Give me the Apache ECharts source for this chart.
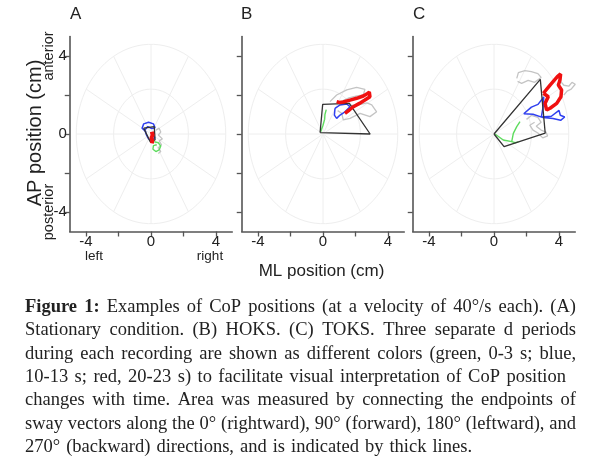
<!DOCTYPE html>
<html><head><meta charset="utf-8">
<script src="https://cdn.jsdelivr.net/npm/echarts@6/dist/echarts.min.js"></script>
<style>html,body{margin:0;padding:0;background:#fff}#c{width:599px;height:463px}</style>
</head><body><div id="c"></div><script>
// ---------- data ----------
const panelLabels = ['A', 'B', 'C'];
const tickValues = [-4, -2, 0, 2, 4];
const xTickLabels = [-4, 0, 4];
const yTickLabels = [-4, 0, 4];
const ringRadii = [2.3, 4.6];
const spokeAngles = [0, 30, 60, 90, 120, 150, 180, 210, 240, 270, 300, 330];

// Panel A (stationary)
const aGray = [[[0.3,0.2],[0.5,0.3],[0.6,0.1],[0.45,-0.05],[0.7,-0.25],[0.5,-0.35],[0.65,-0.55],[0.45,-0.7],[0.6,-0.9],[0.45,-1.0]]];
const aGreen = [[[0.2,-0.4],[0.45,-0.45],[0.6,-0.62],[0.5,-0.82],[0.3,-0.9],[0.12,-0.78],[0.15,-0.6],[0.35,-0.55]]];
const aBlue = [[[-0.3,0.1],[-0.55,0.3],[-0.45,0.52],[-0.15,0.6],[0.15,0.52],[0.25,0.32],[0.05,0.28],[-0.2,0.38],[-0.38,0.2],[-0.28,-0.05],[-0.15,-0.25],[0.1,-0.35],[0.22,-0.18],[0.1,0.0]]];
const aRed = [[[0.05,0.12],[0.1,-0.05],[0.03,-0.2],[0.08,-0.35],[0.05,-0.48]]];
const aArea = [[-0.45,0.3],[0.2,0.38],[0.25,-0.3],[-0.05,-0.4],[-0.45,0.3]];

// Panel B (HOKS)
const bGray = [
  [[0.43,1.66],[0.84,2.0],[1.46,2.26],[2.07,2.39],[2.58,2.29],[2.48,2.0],[2.1,1.95],[1.6,1.85],[1.2,1.7],[0.9,1.55]],
  [[1.6,1.45],[2.2,1.5],[2.7,1.6],[3.0,1.49],[3.3,1.14],[2.89,0.89],[2.28,1.06],[1.66,0.8],[1.25,0.72],[1.15,1.06],[0.9,1.2]]
];
const bGreen = [[[-0.15,0.1],[0.0,0.45],[0.1,0.75],[0.12,1.0],[0.2,1.25]]];
const bBlue = [[[0.74,1.32],[1.05,1.49],[1.46,1.54],[1.66,1.4],[1.35,1.14],[1.05,0.97],[0.84,0.8],[0.7,0.97],[0.74,1.32]]];
const bRed = [[[0.84,1.66],[1.0,1.62],[1.25,1.64],[1.66,1.74],[2.07,1.83],[2.48,1.95],[2.69,2.05],[2.85,2.15],[2.95,2.09],[2.89,1.91],[2.58,1.74],[2.24,1.57],[1.87,1.4],[1.62,1.23],[1.35,1.06]]];
const bArea = [[-0.18,0.07],[-0.02,1.52],[1.62,1.57],[2.9,0.0],[-0.18,0.07]];

// Panel C (TOKS)
const cGray = [
  [[1.4,2.85],[1.5,3.15],[1.9,3.25],[2.3,3.2],[2.7,3.1],[2.9,2.9],[2.5,2.65],[2.1,2.75],[1.7,2.6],[1.45,2.7]],
  [[4.1,2.7],[4.3,2.5],[4.6,2.45],[4.8,2.65],[5.0,2.55],[4.75,2.3],[4.5,2.2],[4.3,2.0]],
  [[2.0,0.75],[2.3,0.95],[2.7,0.85],[2.9,0.6],[2.6,0.4],[2.9,0.2],[3.2,0.1],[3.3,-0.1],[3.0,-0.2],[2.7,0.05],[2.4,0.2],[2.2,0.45],[2.5,0.6]]
];
const cGreen = [
  [[0.06,0.0],[0.57,-0.31],[1.09,-0.39],[1.19,0.03],[1.4,0.38],[1.6,0.63]],
  [[1.09,-0.39],[1.3,-0.45],[1.5,-0.4]]
];
const cBlue = [[[1.83,1.04],[2.3,1.38],[2.71,1.52],[3.06,1.9],[3.02,1.38],[2.91,0.87],[3.53,0.91],[4.0,1.21],[4.08,0.96],[4.35,0.87],[4.1,0.7],[3.63,0.79],[3.02,0.84],[2.4,1.01],[1.83,1.04]]];
const cRed = [[[3.04,2.09],[3.45,2.51],[3.9,2.94],[4.1,3.08],[4.06,2.77],[3.96,2.51],[4.16,2.26],[4.12,1.91],[3.86,1.57],[3.45,1.32],[3.24,1.23],[3.14,1.57],[3.34,1.91],[3.04,2.09]]];
const cArea = [[0,0],[2.85,2.8],[3.15,0.05],[0.62,-0.65],[0,0]];

const captionLines = [
  'Figure 1: Examples of CoP positions (at a velocity of 40°/s each). (A)',
  'Stationary condition. (B) HOKS. (C) TOKS. Three separate d periods',
  'during each recording are shown as different colors (green, 0-3 s; blue,',
  '10-13 s; red, 20-23 s) to facilitate visual interpretation of CoP position',
  'changes with time. Area was measured by connecting the endpoints of',
  'sway vectors along the 0° (rightward), 90° (forward), 180° (leftward), and',
  '270° (backward) directions, and is indicated by thick lines.'
];
const captionRight = [576, 576, 576, 566, 576, 576, 472];

// ---------- layout ----------
const panels = [
  {left: 69.75, gray: aGray, green: aGreen, blue: aBlue, red: aRed, area: aArea, redW: 4},
  {left: 241.75, gray: bGray, green: bGreen, blue: bBlue, red: bRed, area: bArea, redW: 3.5},
  {left: 412.75, gray: cGray, green: cGreen, blue: cBlue, red: cRed, area: cArea, redW: 3.5}
];
const gridTop = 36.5, gridH = 195, gridW = 162.5;
const SANS = '"Liberation Sans", Arial, sans-serif';
const SERIF = '"Liberation Serif", "Times New Roman", serif';

const grids = [], xAxes = [], yAxes = [], series = [];
panels.forEach((p, i) => {
  grids.push({left: p.left, top: gridTop, width: gridW, height: gridH, containLabel: false});
  const axisCommon = {
    type: 'value', min: -5, max: 5, gridIndex: i,
    axisLine: {show: true, onZero: false, lineStyle: {color: '#555', width: 1.6}},
    axisTick: {show: true, inside: false, length: 5, customValues: tickValues, lineStyle: {color: '#555', width: 1.3}},
    splitLine: {show: false}
  };
  xAxes.push(Object.assign({}, axisCommon, {
    axisLabel: {show: true, customValues: xTickLabels, margin: 3, fontSize: 15, fontFamily: SANS, color: '#222'}
  }));
  yAxes.push(Object.assign({}, axisCommon, {
    axisLabel: {show: i === 0, customValues: yTickLabels, margin: 3, fontSize: 15, fontFamily: SANS, color: '#222'}
  }));
  const base = {type: 'line', xAxisIndex: i, yAxisIndex: i, showSymbol: false, symbol: 'none', silent: true, animation: false};
  // polar reference grid (ellipses because axes are scaled differently)
  ringRadii.forEach(r => {
    const pts = [];
    for (let a = 0; a <= 360; a += 4) pts.push([r * Math.cos(a * Math.PI / 180), r * Math.sin(a * Math.PI / 180)]);
    series.push(Object.assign({}, base, {data: pts, lineStyle: {color: '#eeeeee', width: 1}, z: 1}));
  });
  spokeAngles.forEach(a => {
    const R = ringRadii[1];
    series.push(Object.assign({}, base, {data: [[0, 0], [R * Math.cos(a * Math.PI / 180), R * Math.sin(a * Math.PI / 180)]], lineStyle: {color: '#eeeeee', width: 1}, z: 1}));
  });
  const addSegs = (segs, color, width, z) => segs.forEach(s =>
    series.push(Object.assign({}, base, {data: s, lineStyle: {color, width}, z})));
  addSegs(p.gray, '#c4c4c4', 1.3, 2);
  addSegs(p.green, '#5edc5e', 1.4, 3);
  addSegs(p.blue, '#3040f0', 1.5, 4);
  series.push(Object.assign({}, base, {data: p.area, lineStyle: {color: '#333', width: 1.3}, z: 5}));
  addSegs(p.red, '#f01010', p.redW, 6);
});

// ---------- texts ----------
const graphic = [];
const lblX = [70, 241, 413];
panelLabels.forEach((t, i) => graphic.push({type: 'text', x: lblX[i], y: 6, silent: true,
  style: {text: t, fontSize: 17, fontFamily: SANS, fill: '#222', align: 'left', verticalAlign: 'top'}}));
graphic.push({type: 'text', x: 35, y: 133, rotation: Math.PI / 2, silent: true,
  style: {text: 'AP position (cm)', fontSize: 20, fontFamily: SANS, fill: '#222', align: 'center', verticalAlign: 'middle'}});
graphic.push({type: 'text', x: 48.5, y: 56, rotation: Math.PI / 2, silent: true,
  style: {text: 'anterior', fontSize: 14.5, fontFamily: SANS, fill: '#222', align: 'center', verticalAlign: 'middle'}});
graphic.push({type: 'text', x: 48.5, y: 212, rotation: Math.PI / 2, silent: true,
  style: {text: 'posterior', fontSize: 14.5, fontFamily: SANS, fill: '#222', align: 'center', verticalAlign: 'middle'}});
graphic.push({type: 'text', x: 94, y: 256, silent: true,
  style: {text: 'left', fontSize: 13.5, fontFamily: SANS, fill: '#222', align: 'center', verticalAlign: 'middle'}});
graphic.push({type: 'text', x: 210, y: 256, silent: true,
  style: {text: 'right', fontSize: 13.5, fontFamily: SANS, fill: '#222', align: 'center', verticalAlign: 'middle'}});
graphic.push({type: 'text', x: 321.5, y: 271, silent: true,
  style: {text: 'ML position (cm)', fontSize: 17, fontFamily: SANS, fill: '#222', align: 'center', verticalAlign: 'middle'}});

// caption, justified word by word
const CAP_SIZE = 18.5;
const ctx = document.createElement('canvas').getContext('2d');
captionLines.forEach((line, li) => {
  const words = line.split(' ');
  const info = words.map((w, wi) => {
    const bold = li === 0 && wi < 2;
    ctx.font = (bold ? 'bold ' : '') + CAP_SIZE + 'px ' + SERIF;
    return {w, bold, width: ctx.measureText(w).width};
  });
  const total = info.reduce((s, o) => s + o.width, 0);
  const left = 25, right = captionRight[li];
  const gap = words.length > 1 ? (right - left - total) / (words.length - 1) : 0;
  let x = left;
  const y = 307 + 23.35 * li;
  info.forEach(o => {
    graphic.push({type: 'text', x, y, silent: true,
      style: {text: o.w, fontSize: CAP_SIZE, fontFamily: SERIF, fontWeight: o.bold ? 'bold' : 'normal', fill: '#222', align: 'left', verticalAlign: 'middle'}});
    x += o.width + gap;
  });
});

const chart = echarts.init(document.getElementById('c'), null, {renderer: 'canvas'});
chart.setOption({
  animation: false,
  backgroundColor: '#fff',
  grid: grids, xAxis: xAxes, yAxis: yAxes, series, graphic
});
</script></body></html>
